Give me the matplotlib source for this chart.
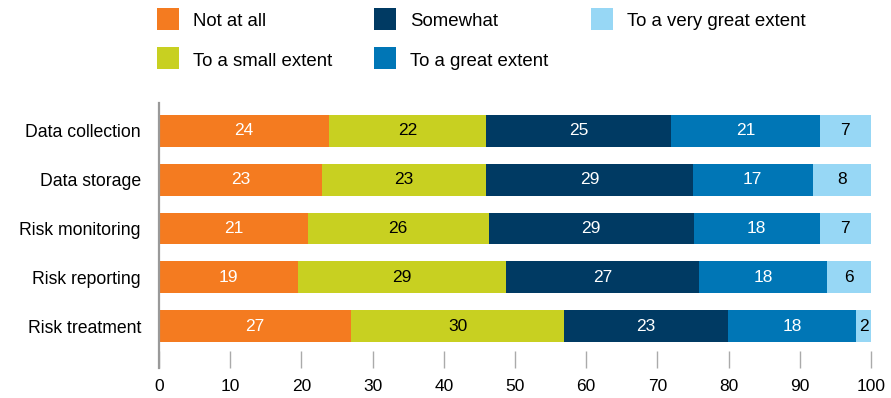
import matplotlib.pyplot as plt
from matplotlib.patches import Rectangle

plt.rcParams['font.family'] = ['Liberation Sans', 'DejaVu Sans']

categories = ["Data collection", "Data storage", "Risk monitoring", "Risk reporting", "Risk treatment"]
series = ["Not at all", "To a small extent", "Somewhat", "To a great extent", "To a very great extent"]

# printed labels (rounded, as shown on the bars)
not_at_all = [24, 23, 21, 19, 27]
small = [22, 23, 26, 29, 30]
somewhat = [25, 29, 29, 27, 23]
great = [21, 17, 18, 18, 18]
very_great = [7, 8, 7, 6, 2]

# bar widths (each row fills 100)
not_at_all_w = [23.9, 22.9, 20.9, 19.5, 27.0]
small_w = [22.0, 23.0, 25.4, 29.3, 29.9]
somewhat_w = [26.0, 29.1, 28.8, 27.1, 23.0]
great_w = [20.9, 16.8, 17.7, 17.9, 18.0]
very_great_w = [7.2, 8.2, 7.2, 6.2, 2.1]

colors = ["#F47B20", "#C8D021", "#003A63", "#0076B6", "#97D7F5"]
text_colors = ["white", "black", "white", "white", "black"]

fig = plt.figure(figsize=(8.91, 3.98), dpi=100)
W, H = 891, 398
ax = fig.add_axes([159 / W, 30 / H, 712 / W, 265 / H])

labels = [not_at_all, small, somewhat, great, very_great]
widths = [not_at_all_w, small_w, somewhat_w, great_w, very_great_w]
y = list(range(len(categories)))
left = [0] * len(categories)
for vals, ws, c, tc in zip(labels, widths, colors, text_colors):
    bars = ax.barh(y, ws, left=left, height=0.65, color=c, linewidth=0)
    for b, v in zip(bars, vals):
        ax.text(b.get_x() + b.get_width() / 2, b.get_y() + b.get_height() / 2, str(v),
                ha="center", va="center", color=tc, fontsize=12.5)
    left = [l + w for l, w in zip(left, ws)]

ax.set_xlim(0, 100)
ax.set_ylim(4.86, -0.574)
ax.set_yticks(y)
ax.set_yticklabels(categories, fontsize=12.7)
ax.set_xticks(range(0, 101, 10))
ax.tick_params(axis="y", length=0, pad=13)
ax.tick_params(axis="x", direction="in", length=12.5, width=1, color="#aaaaaa",
               labelsize=12.5, pad=8)
for s in ["top", "right", "bottom"]:
    ax.spines[s].set_visible(False)
ax.spines["left"].set_color("#999999")
ax.spines["left"].set_linewidth(1.6)

# legend
leg_pos = [(157, 19), (157, 58), (374, 19), (374, 58), (591, 19)]
for (px, py), name, c in zip(leg_pos, series, colors):
    fig.patches.append(Rectangle((px / W, 1 - (py + 11) / H), 22 / W, 22 / H,
                                 transform=fig.transFigure, color=c, linewidth=0))
    fig.text((px + 36) / W, 1 - (py + 3) / H, name, ha="left", va="center", fontsize=13.4)

fig.savefig("out.png", dpi=100)
